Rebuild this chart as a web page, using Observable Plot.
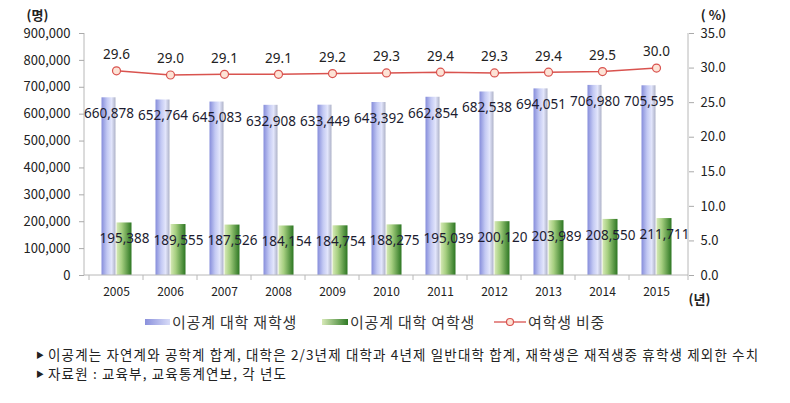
<!DOCTYPE html>
<html><head><meta charset="utf-8">
<script src="https://cdn.jsdelivr.net/npm/d3@7"></script>
<script src="https://cdn.jsdelivr.net/npm/@observablehq/plot@0.6"></script>
<style>
body{margin:0;background:#fff;font-family:"Noto Sans CJK KR",sans-serif;}
#wrap{position:relative;width:790px;height:403px;overflow:hidden;}
#chart{position:absolute;left:0;top:0;}
.lg{position:absolute;top:312px;height:20px;line-height:20px;font-size:15px;color:#333;white-space:nowrap;letter-spacing:0.8px;}
.sw{position:absolute;top:319px;height:6px;}
.note{position:absolute;left:36px;font-size:13.5px;color:#222;white-space:nowrap;line-height:18px;letter-spacing:1.15px;}
.note .tri{font-size:8px;vertical-align:2px;margin-right:4px;letter-spacing:0;}
</style></head><body>
<div id="wrap">
<div id="chart"></div>
<div class="sw" style="left:145px;width:25px;background:linear-gradient(to right,#8a90dc,#d8dcf8);"></div>
<div class="lg" style="left:172px;">이공계 대학 재학생</div>
<div class="sw" style="left:322px;width:26px;background:linear-gradient(to right,#d8eab8,#2f7a25);"></div>
<div class="lg" style="left:350px;">이공계 대학 여학생</div>
<svg style="position:absolute;left:494px;top:314px;" width="32" height="16"><line x1="0" x2="32" y1="8" y2="8" stroke="#d9534f" stroke-width="1.3"/><circle cx="16" cy="8" r="3.5" fill="#fde3d6" stroke="#d9534f" stroke-width="1.2"/></svg>
<div class="lg" style="left:528px;">여학생 비중</div>
<div class="note" style="top:345px;"><span class="tri">▶</span>이공계는 자연계와 공학계 합계, 대학은 2/3년제 대학과 4년제 일반대학 합계, 재학생은 재적생중 휴학생 제외한 수치</div>
<div class="note" style="top:364px;"><span class="tri">▶</span>자료원 : 교육부, 교육통계연보, 각 년도</div>
</div>
<script>
const years = [2005, 2006, 2007, 2008, 2009, 2010, 2011, 2012, 2013, 2014, 2015];
const enrolled = [660878, 652764, 645083, 632908, 633449, 643392, 662854, 682538, 694051, 706980, 705595];
const female = [195388, 189555, 187526, 184154, 184754, 188275, 195039, 200120, 203989, 208550, 211711];
const ratio = [29.6, 29.0, 29.1, 29.1, 29.2, 29.3, 29.4, 29.3, 29.4, 29.5, 30.0];
const leftTicks = [0, 100000, 200000, 300000, 400000, 500000, 600000, 700000, 800000, 900000];
const rightTicks = [0, 5, 10, 15, 20, 25, 30, 35];

const yMax = 900000, pMax = 35;
const toY = p => p * yMax / pMax;
const fmt = d3.format(",");
const data = years.map((y, i) => ({year: String(y), total: enrolled[i], female: female[i], pct: ratio[i]}));

const defs = () => {
  const d = d3.create("svg:defs");
  const b = d.append("linearGradient").attr("id", "gBlue");
  [["0%", "#868ddb"], ["40%", "#c3c9f3"], ["72%", "#e2e5fb"], ["100%", "#aeb2c8"]].forEach(([o, c]) => b.append("stop").attr("offset", o).attr("stop-color", c));
  const g = d.append("linearGradient").attr("id", "gGreen");
  [["0%", "#d6e9b6"], ["35%", "#a6cf80"], ["100%", "#2c7622"]].forEach(([o, c]) => g.append("stop").attr("offset", o).attr("stop-color", c));
  return d.node();
};

const axisLines = (index, scales, values, dim) => {
  const {marginLeft: l, marginRight: r, width: w} = dim;
  const y0 = scales.y(0), yT = scales.y(yMax);
  const g = d3.create("svg:g").attr("stroke", "#b8b8b8").attr("fill", "none");
  g.append("line").attr("x1", l).attr("x2", l).attr("y1", yT).attr("y2", y0);
  g.append("line").attr("x1", w - r).attr("x2", w - r).attr("y1", yT).attr("y2", y0);
  g.append("line").attr("x1", l).attr("x2", w - r).attr("y1", y0).attr("y2", y0);
  const xs = data.map(d => scales.x(d.year)).concat([w - r]);
  xs.forEach(x => g.append("line").attr("x1", x).attr("x2", x).attr("y1", y0).attr("y2", y0 + 5));
  return g.node();
};

const chart = Plot.plot({
  width: 790, height: 312,
  marginLeft: 84, marginRight: 102, marginTop: 33, marginBottom: 37,
  x: {type: "band", domain: data.map(d => d.year), padding: 0},
  y: {domain: [0, yMax]},
  style: {fontFamily: '"Noto Sans CJK KR", sans-serif', color: "#222", background: "transparent"},
  marks: [
    defs,
    Plot.barY(data, {x: "year", y: "total", fill: "url(#gBlue)", insetLeft: 12.5, insetRight: 27.5}),
    Plot.barY(data, {x: "year", y: "female", fill: "url(#gGreen)", insetLeft: 27.5, insetRight: 11.5}),
    axisLines,
    Plot.axisY(leftTicks, {anchor: "left", tickFormat: fmt, tickSize: 5, tickPadding: 9, fontSize: 13, stroke: "#aaa", label: null}),
    Plot.axisY(rightTicks.map(toY), {anchor: "right", tickFormat: d => (d * pMax / yMax).toFixed(1), tickSize: 5, tickPadding: 7, fontSize: 13, stroke: "#aaa", label: null}),
    Plot.axisX({tickSize: 0, tickPadding: 12, fontSize: 12, label: null}),
    Plot.line(data, {x: "year", y: d => toY(d.pct), stroke: "#d9534f", strokeWidth: 1.5}),
    Plot.dot(data, {x: "year", y: d => toY(d.pct), r: 4, fill: "#fde3d6", stroke: "#d9534f", strokeWidth: 1.2}),
    Plot.text(data, {x: "year", y: d => toY(d.pct), text: d => d.pct.toFixed(1), dy: -16, fontSize: 13.5, fill: "#222", fontFamily: '"Noto Sans", sans-serif'}),
    Plot.text(data, {x: "year", y: "total", text: d => fmt(d.total), dx: -7.5, dy: 16, fontSize: 13.5, fill: "#1c1c30", fontFamily: '"Noto Sans", sans-serif'}),
    Plot.text(data, {x: "year", y: "female", text: d => fmt(d.female), dx: 8, dy: 16, fontSize: 13.5, fill: "#1c1c30", fontFamily: '"Noto Sans", sans-serif'}),
    Plot.text(["(명)"], {frameAnchor: "top-left", dx: -47, dy: -18, textAnchor: "middle", lineAnchor: "middle", fontWeight: "bold", fontSize: 13}),
    Plot.text(["( %)"], {frameAnchor: "top-right", dx: 25, dy: -18, textAnchor: "middle", lineAnchor: "middle", fontWeight: "bold", fontSize: 13}),
    Plot.text(["(년)"], {frameAnchor: "bottom-right", dx: 11, dy: 24, textAnchor: "middle", lineAnchor: "middle", fontWeight: "bold", fontSize: 13})
  ]
});
document.getElementById("chart").appendChild(chart);
</script>
</body></html>
